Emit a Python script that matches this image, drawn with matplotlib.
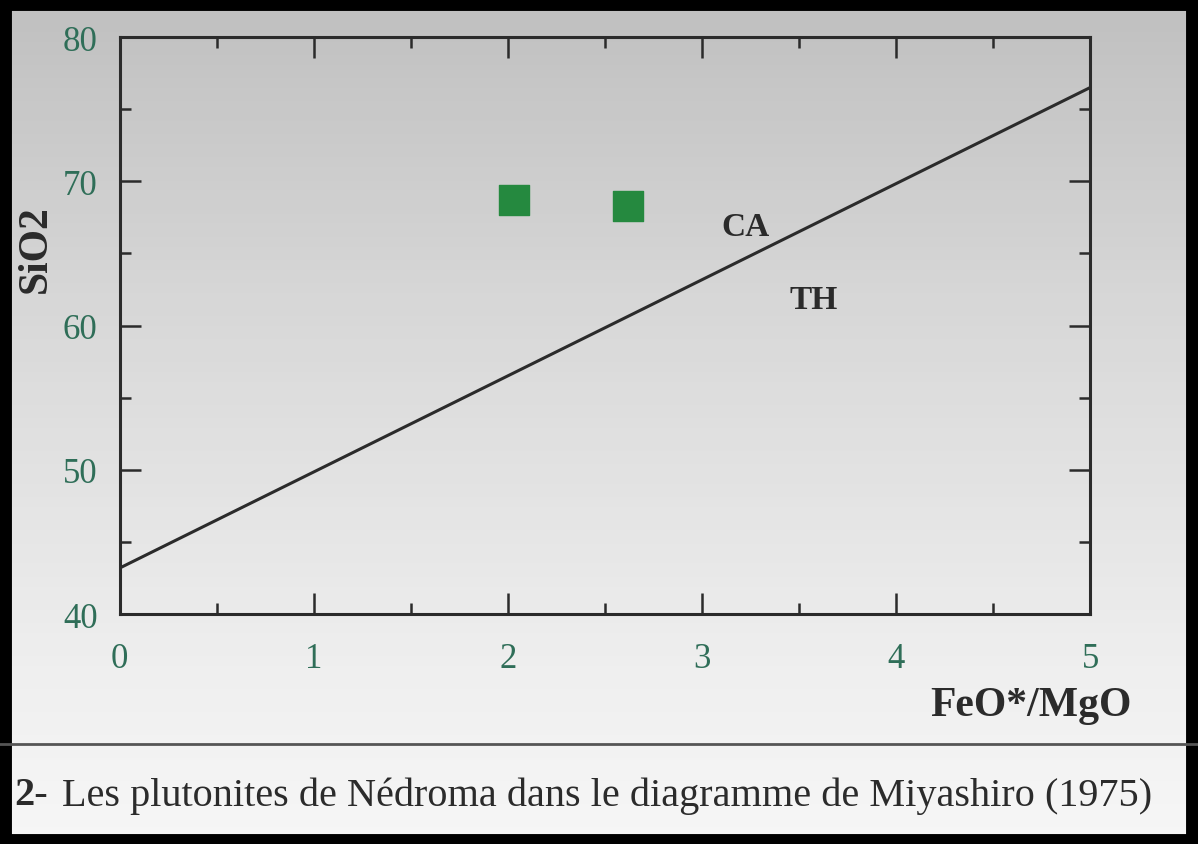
import numpy as np
import matplotlib.pyplot as plt
from matplotlib.patches import Rectangle
from matplotlib.ticker import MultipleLocator

# Limite CA / TH (Miyashiro 1975)
limite_x = [0.0, 5.0]
limite_y = [43.2, 76.5]

# Plutonites de Nédroma
feo_mgo = [2.03, 2.62]
sio2 = [68.7, 68.3]

xticks = [0, 1, 2, 3, 4, 5]
yticks = [40, 50, 60, 70, 80]

serif = ['Liberation Serif', 'DejaVu Serif']
vert = '#2f6e58'
gris = '#2b2b2b'

fig = plt.figure(figsize=(11.98, 8.45), dpi=100)

# fond de la photo : plus sombre en haut, plus clair en bas
fond = fig.add_axes([0, 0, 1, 1], zorder=-1)
degrade = np.linspace(0, 1, 256).reshape(-1, 1)
fond.imshow(degrade, cmap='Greys_r', vmin=-2.2, vmax=1.25, aspect='auto',
            extent=[0, 1, 0, 1], origin='upper')
fond.axis('off')

ax = fig.add_axes([0.1, 0.272, 0.81, 0.683])
ax.set_facecolor('none')

ax.plot(limite_x, limite_y, color=gris, lw=2.2)
ax.scatter(feo_mgo, sio2, marker='s', s=480, color='#25893f', zorder=3)

ax.text(3.1, 66.3, 'CA', family=serif, fontweight='bold', fontsize=24, color=gris)
ax.text(3.45, 61.2, 'TH', family=serif, fontweight='bold', fontsize=24, color=gris)

ax.set_xlim(0, 5)
ax.set_ylim(40, 80)
ax.set_xticks(xticks)
ax.set_yticks(yticks)
ax.xaxis.set_minor_locator(MultipleLocator(0.5))
ax.yaxis.set_minor_locator(MultipleLocator(5))
ax.tick_params(which='both', direction='in', top=True, right=True, color=gris, width=1.8)
ax.tick_params(which='major', length=15, labelsize=25, labelcolor=vert)
ax.tick_params(axis='x', which='major', pad=20)
ax.tick_params(axis='y', which='major', pad=16)
ax.tick_params(which='minor', length=8)
for lab in ax.get_xticklabels() + ax.get_yticklabels():
    lab.set_family(serif)
for sp in ax.spines.values():
    sp.set_color(gris)
    sp.set_linewidth(2.2)

fig.text(0.03, 0.705, 'SiO2', family=serif, fontweight='bold', fontsize=30, color=gris,
         rotation=90, ha='center', va='center')
fig.text(0.945, 0.165, 'FeO*/MgO', family=serif, fontweight='bold', fontsize=30,
         color=gris, ha='right', va='center')

# filet et légende de la figure
fig.add_artist(plt.Line2D([0.0, 1.0], [0.118, 0.118], color='#555555', lw=2))
fig.text(0.012, 0.058, '2-', family=serif, fontweight='bold', fontsize=29,
         color=gris, va='center')
fig.text(0.052, 0.058, 'Les plutonites de Nédroma dans le diagramme de Miyashiro (1975)',
         family=serif, fontsize=29, color=gris, va='center')

# cadre noir autour de la photo
fig.add_artist(Rectangle((0.004, 0.004), 0.992, 0.99, transform=fig.transFigure,
                         fill=False, edgecolor='black', lw=10))

fig.savefig('out.png', dpi=100)
